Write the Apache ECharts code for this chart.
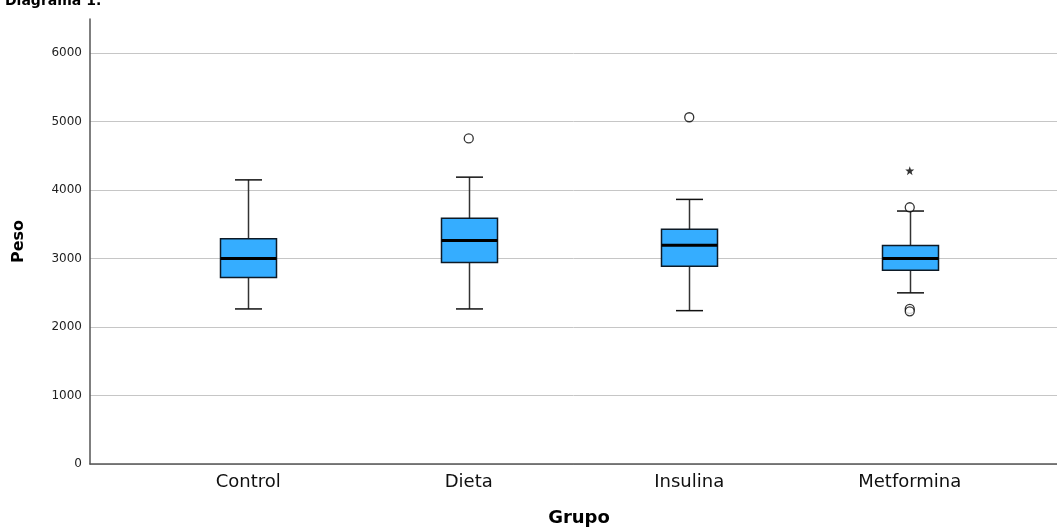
<!DOCTYPE html>
<html>
<head>
<meta charset="utf-8">
<script src="https://cdn.jsdelivr.net/npm/echarts@6/dist/echarts.min.js"></script>
<style>html,body{margin:0;padding:0;background:#fff}#c{width:1057px;height:529px}</style>
</head>
<body>
<div id="c"></div>
<script>
var categories = ['Control', 'Dieta', 'Insulina', 'Metformina'];
var whiskerLow = [2265, 2265, 2240, 2500];
var q1 = [2725, 2945, 2890, 2830];
var median = [3000, 3265, 3195, 3000];
var q3 = [3290, 3590, 3430, 3190];
var whiskerHigh = [4150, 4190, 3865, 3695];
var outliers = [[1, 4755], [2, 5065], [3, 3750], [3, 2265], [3, 2230]];
var extremes = [[3, 4285]];
var yTicks = [0, 1000, 2000, 3000, 4000, 5000, 6000];

var boxData = categories.map(function (c, i) {
  return [i, whiskerLow[i], q1[i], median[i], q3[i], whiskerHigh[i]];
});

var FONT = 'DejaVu Sans';
var chart = echarts.init(document.getElementById('c'), null, {renderer: 'canvas'});
var gridColors = yTicks.map(function () { return '#c6c6c6'; }).concat(['rgba(0,0,0,0)']);

chart.setOption({
  animation: false,
  backgroundColor: '#ffffff',
  title: {
    text: 'Diagrama 1.', left: 0, top: -11,
    textStyle: {fontFamily: FONT, fontWeight: 'bold', fontSize: 14, color: '#000'}
  },
  grid: [
    {left: 138, right: 37, top: 19, bottom: 65, containLabel: false, outerBoundsMode: 'none'},
    {left: 90, right: 0, top: 19, bottom: 65, containLabel: false, outerBoundsMode: 'none'}
  ],
  xAxis: [
    {
      type: 'category', gridIndex: 0, data: categories,
      axisLine: {show: false}, axisTick: {show: false}, splitLine: {show: false},
      axisLabel: {fontFamily: FONT, fontSize: 18, color: '#111', margin: 9},
      name: 'Grupo', nameLocation: 'middle', nameGap: 45,
      nameTextStyle: {fontFamily: FONT, fontWeight: 'bold', fontSize: 18, color: '#000'}
    },
    {
      type: 'value', gridIndex: 1, min: 0, max: 1,
      axisLine: {show: true, lineStyle: {color: '#555', width: 1.5}},
      axisTick: {show: false}, axisLabel: {show: false}, splitLine: {show: false}
    }
  ],
  yAxis: [
    {
      type: 'value', gridIndex: 0, min: 0, max: 6500,
      show: false, splitLine: {show: false}
    },
    {
      type: 'value', gridIndex: 1, min: 0, max: 6500, interval: 1000,
      axisLine: {show: true, lineStyle: {color: '#555', width: 1.5}},
      axisTick: {show: false},
      axisLabel: {
        fontFamily: FONT, fontSize: 12, color: '#222', margin: 8, showMaxLabel: false,
        formatter: function (v) { return yTicks.indexOf(v) >= 0 ? String(v) : ''; }
      },
      splitLine: {show: true, lineStyle: {color: gridColors, width: 1}},
      name: 'Peso', nameLocation: 'middle', nameGap: 63,
      nameTextStyle: {fontFamily: FONT, fontWeight: 'bold', fontSize: 16, color: '#000'}
    }
  ],
  series: [
    {
      type: 'custom', xAxisIndex: 0, yAxisIndex: 0, data: boxData,
      renderItem: function (params, api) {
        var x = api.value(0);
        var pLow = api.coord([x, api.value(1)]);
        var pQ1 = api.coord([x, api.value(2)]);
        var pMed = api.coord([x, api.value(3)]);
        var pQ3 = api.coord([x, api.value(4)]);
        var pHigh = api.coord([x, api.value(5)]);
        var cx = Math.round(pMed[0]) + 0.5;
        var bw = 56, cw = 27;
        return {
          type: 'group',
          children: [
            {type: 'line', shape: {x1: cx, y1: pHigh[1], x2: cx, y2: pQ3[1]}, style: {stroke: '#333', lineWidth: 1.5}},
            {type: 'line', shape: {x1: cx, y1: pQ1[1], x2: cx, y2: pLow[1]}, style: {stroke: '#333', lineWidth: 1.5}},
            {type: 'line', shape: {x1: cx - cw / 2, y1: pHigh[1], x2: cx + cw / 2, y2: pHigh[1]}, style: {stroke: '#111', lineWidth: 1.5}},
            {type: 'line', shape: {x1: cx - cw / 2, y1: pLow[1], x2: cx + cw / 2, y2: pLow[1]}, style: {stroke: '#111', lineWidth: 1.5}},
            {type: 'rect', shape: {x: cx - bw / 2, y: pQ3[1], width: bw, height: pQ1[1] - pQ3[1]}, style: {fill: '#35adff', stroke: '#0d1a26', lineWidth: 1.5}},
            {type: 'line', shape: {x1: cx - bw / 2, y1: pMed[1], x2: cx + bw / 2, y2: pMed[1]}, style: {stroke: '#000', lineWidth: 3}}
          ]
        };
      }
    },
    {
      type: 'scatter', xAxisIndex: 0, yAxisIndex: 0, data: outliers,
      symbol: 'circle', symbolSize: 9,
      itemStyle: {color: '#fff', borderColor: '#000', borderWidth: 1.3}
    },
    {
      type: 'scatter', xAxisIndex: 0, yAxisIndex: 0, data: extremes,
      symbol: 'path://M0,-10 L2.4,-3.3 L9.5,-3.1 L3.9,1.3 L5.9,8.1 L0,4 L-5.9,8.1 L-3.9,1.3 L-9.5,-3.1 L-2.4,-3.3 Z',
      symbolSize: 9,
      itemStyle: {color: '#000'}
    }
  ]
});
</script>
</body>
</html>
